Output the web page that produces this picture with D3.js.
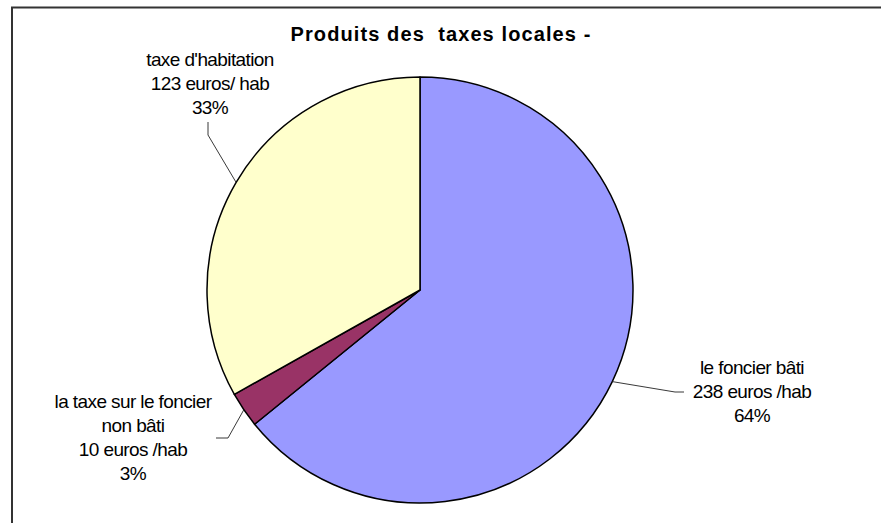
<!DOCTYPE html>
<html>
<head>
<meta charset="utf-8">
<script src="https://cdn.jsdelivr.net/npm/d3@7/dist/d3.min.js"></script>
<style>
  html, body { margin: 0; padding: 0; background: #fff; }
  svg { display: block; }
  text { font-family: "Liberation Sans", Arial, sans-serif; fill: #000; }
</style>
</head>
<body>
<svg id="chart" width="881" height="523"></svg>
<script>
// Tax revenue per inhabitant, by local tax
const categories = ["le foncier bâti", "la taxe sur le foncier\nnon bâti", "taxe d'habitation"];
const values = [238, 10, 123];
const units = ["euros /hab", "euros /hab", "euros/ hab"];
const colors = ["#9999ff", "#993366", "#ffffcc"];
const title = "Produits des\u00a0 taxes locales -";

const svg = d3.select("#chart");
const W = 881, H = 523;
const cx = 420, cy = 290, r = 213;

// frame (top and left edges)
svg.append("path")
  .attr("d", `M12,${H} L12,7.5 L${W},7.5`)
  .attr("fill", "none").attr("stroke", "#333").attr("stroke-width", 2);

svg.append("text")
  .attr("x", 441).attr("y", 41)
  .attr("text-anchor", "middle")
  .attr("font-size", 20).attr("font-weight", "bold")
  .attr("letter-spacing", 1.1)
  .text(title);

const total = d3.sum(values);
const pie = d3.pie().sort(null).value(d => d)(values);
const arc = d3.arc().innerRadius(0).outerRadius(r);

const g = svg.append("g").attr("transform", `translate(${cx},${cy})`);
g.selectAll("path.slice").data(pie).join("path")
  .attr("class", "slice")
  .attr("d", arc)
  .attr("fill", (d, i) => colors[i])
  .attr("stroke", "#000").attr("stroke-width", 1.5)
  .attr("stroke-linejoin", "round");

// label anchors and leader bends, per slice
const labelPos = [
  { x: 752, y: 374, bend: [675, 392], end: [684, 392] },
  { x: 133, y: 408, bend: [228, 438], end: [216, 438] },
  { x: 210, y: 66,  bend: [208, 135], end: [208, 122] }
];

const pct = d3.format(".0%");
pie.forEach((d, i) => {
  const p = labelPos[i];
  // leader touches the rim at the slice's mid-angle
  const a = (d.startAngle + d.endAngle) / 2;
  const ex = cx + r * Math.sin(a), ey = cy - r * Math.cos(a);
  svg.append("polyline")
    .attr("points", `${ex},${ey} ${p.bend[0]},${p.bend[1]} ${p.end[0]},${p.end[1]}`)
    .attr("fill", "none").attr("stroke", "#222").attr("stroke-width", 0.9);

  const lines = categories[i].split("\n")
    .concat([`${values[i]} ${units[i]}`, pct(values[i] / total)]);
  const t = svg.append("text")
    .attr("text-anchor", "middle")
    .attr("font-size", 19)
    .attr("letter-spacing", -0.6);
  lines.forEach((s, k) => {
    t.append("tspan").attr("x", p.x).attr("y", p.y + k * 24).text(s);
  });
});
</script>
</body>
</html>
